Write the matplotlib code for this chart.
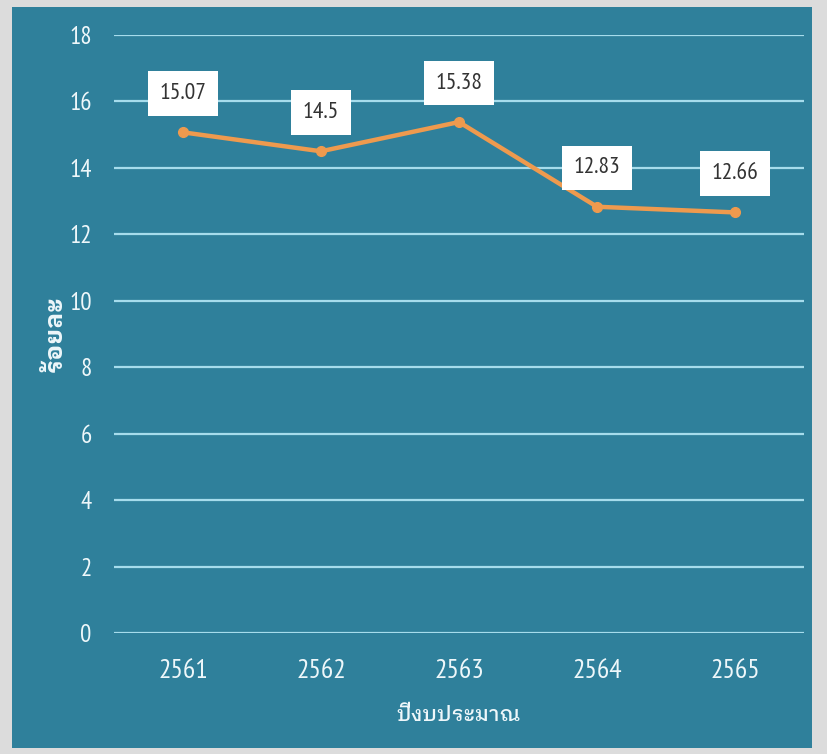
import matplotlib
matplotlib.use("Agg")
import matplotlib.pyplot as plt
from matplotlib import font_manager
from matplotlib.patches import Rectangle

# ─────────────────────────────────────────────────────────────
# DATA
# ─────────────────────────────────────────────────────────────
years = ["2561", "2562", "2563", "2564", "2565"]
percent = [15.07, 14.5, 15.38, 12.83, 12.66]
value_labels = ["15.07", "14.5", "15.38", "12.83", "12.66"]
y_ticks = [0, 2, 4, 6, 8, 10, 12, 14, 16, 18]

x_title = "ปีงบประมาณ"
y_title = "ร้อยละ"

# ─────────────────────────────────────────────────────────────
# STYLE
# ─────────────────────────────────────────────────────────────
TEAL = "#2F809B"
GRID = "#A6DCEC"
ORANGE = "#EE9A4E"
TEXT = "#EEF7FA"

# pick a narrow face for the numbers (first one that is installed)
installed = {f.name for f in font_manager.fontManager.ttflist}
narrow_choices = ["PT Sans Narrow", "Roboto Condensed", "Archivo Narrow",
                  "Fira Sans Condensed", "Liberation Sans Narrow", "Carlito",
                  "Athiti"]
narrow = next((n for n in narrow_choices if n in installed), "DejaVu Sans")

num_font = [narrow, "IBM Plex Sans Thai Looped", "DejaVu Sans"]
thai_font = ["IBM Plex Sans Thai Looped", "IBM Plex Sans Thai", "DejaVu Sans"]

fig = plt.figure(figsize=(8.27, 7.54), dpi=100, facecolor="#DCDCDC")

# teal panel behind the chart
fig.patches.append(Rectangle((12 / 827, 1 - 748 / 754), 800 / 827, 741 / 754,
                             transform=fig.transFigure, facecolor=TEAL,
                             edgecolor="none", zorder=-10))

ax = fig.add_axes([114 / 827, 1 - 633 / 754, 690 / 827, 598 / 754])
ax.set_facecolor("none")

x = list(range(len(years)))
ax.plot(x, percent, color=ORANGE, linewidth=3.2, marker="o", markersize=7,
        markerfacecolor=ORANGE, markeredgecolor=ORANGE, zorder=3,
        solid_capstyle="round")

for xi, yi, lab in zip(x, percent, value_labels):
    ax.annotate(lab, (xi, yi), xytext=(0, 28), textcoords="offset points",
                ha="center", va="center", fontsize=17, color="#333333",
                family=num_font, zorder=4,
                bbox=dict(boxstyle="square,pad=0.5", facecolor="white",
                          edgecolor="none"))

ax.set_xlim(-0.5, len(years) - 0.5)
ax.set_ylim(0, 18)
ax.set_yticks(y_ticks)
ax.set_xticks(x)
ax.set_xticklabels(years)
ax.grid(axis="y", color=GRID, linewidth=1.6)
ax.set_axisbelow(True)
for s in ax.spines.values():
    s.set_visible(False)
ax.tick_params(length=0)
ax.tick_params(axis="x", pad=19, labelsize=20, labelcolor=TEXT)
ax.tick_params(axis="y", pad=16, labelsize=18, labelcolor=TEXT)
for t in ax.get_xticklabels() + ax.get_yticklabels():
    t.set_family(num_font)

ax.set_xlabel(x_title, family=thai_font, fontsize=15, color=TEXT,
              fontweight="medium", labelpad=16)
ax.set_ylabel(y_title, family=thai_font, fontsize=18, color=TEXT,
              fontweight="bold")
ax.yaxis.set_label_coords(-0.068, 0.5)

plt.savefig("out.png", dpi=100, facecolor=fig.get_facecolor())
